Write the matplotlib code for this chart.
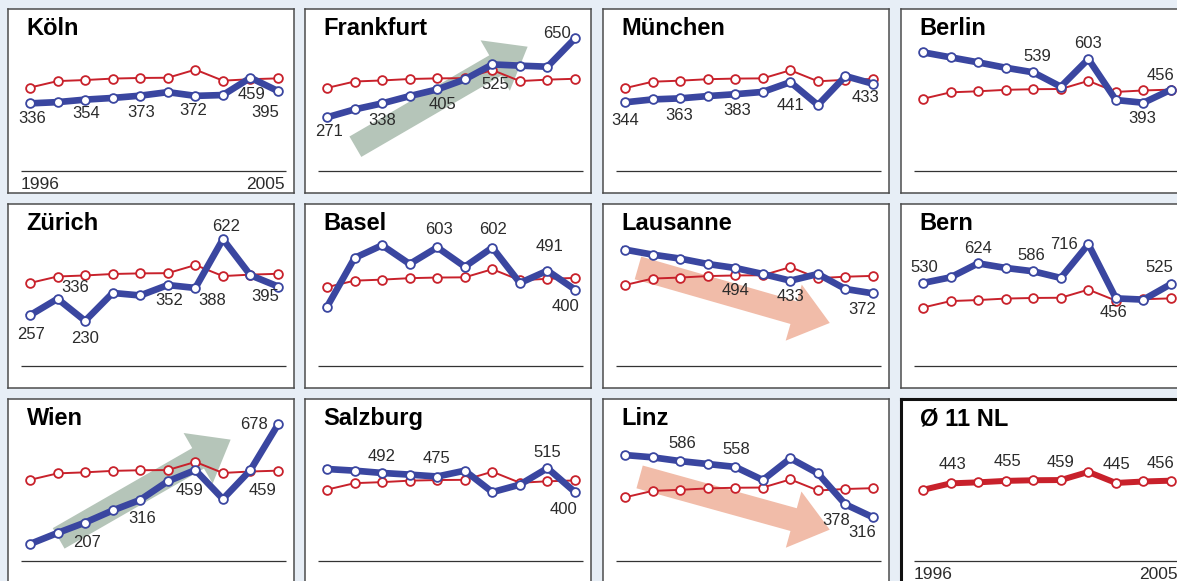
import matplotlib.pyplot as plt
from matplotlib.patches import ArrowStyle

years = list(range(1996, 2006))

panels = ['Köln', 'Frankfurt', 'München', 'Berlin',
          'Zürich', 'Basel', 'Lausanne', 'Bern',
          'Wien', 'Salzburg', 'Linz', 'Ø 11 NL']

# average of the 11 cities (red line, repeated in every panel)
avg_11 = [412, 443, 448, 455, 458, 459, 498, 445, 452, 456]

koeln = [336, 342, 354, 362, 373, 390, 372, 376, 459, 395]
frankfurt = [271, 309, 338, 373, 405, 453, 525, 519, 514, 650]
muenchen = [344, 358, 363, 374, 383, 394, 441, 331, 470, 433]
berlin = [635, 611, 587, 561, 539, 470, 603, 406, 393, 456]
zuerich = [257, 336, 230, 364, 352, 402, 388, 622, 449, 395]
basel = [317, 552, 613, 523, 603, 510, 602, 432, 491, 400]
lausanne = [582, 558, 539, 513, 494, 465, 433, 465, 393, 372]
bern = [530, 557, 624, 602, 586, 554, 716, 456, 450, 525]
wien = [104, 157, 207, 265, 316, 405, 459, 320, 459, 678]
salzburg = [511, 503, 492, 484, 475, 503, 400, 436, 515, 400]
linz = [615, 604, 586, 572, 558, 495, 599, 527, 378, 316]

city_series = [koeln, frankfurt, muenchen, berlin, zuerich, basel,
               lausanne, bern, wien, salzburg, linz, None]

# value at the top edge of each panel (all panels share one value-per-pixel scale)
panel_top = [789, 791, 792, 843, 791, 811, 801, 909, 800, 847, 884, 848]

# labelled points: (index, dx, dy) with the offset in pixels from the point
label_pos = [
    [(0, 2, -15), (2, 1, -14), (4, 1, -17), (6, -2, -15), (8, 1, -17), (9, -13, -21)],
    [(0, 2, -14), (2, 0, -17), (4, 5, -15), (6, 3, -20), (9, -18, 5)],
    [(0, 0, -18), (2, -1, -17), (4, 2, -16), (6, 0, -23), (9, -8, -14)],
    [(4, 4, 16), (6, 0, 15), (8, -1, -16), (9, -11, 14)],
    [(0, 1, -19), (1, 18, 11), (2, 0, -18), (4, 29, -5), (6, 17, -13), (7, 3, 13), (9, -13, -10)],
    [(4, 2, 18), (6, 1, 18), (8, 2, 24), (9, -10, -17)],
    [(4, 0, -23), (6, 0, -16), (9, -11, -16)],
    [(0, 1, 15), (2, 0, 15), (4, -2, 16), (6, -24, 0), (7, -2, -14), (9, -12, 17)],
    [(2, 2, -20), (4, 2, -19), (6, -6, -20), (8, 12, -20), (9, -24, 0)],
    [(2, 0, 16), (4, -1, 18), (8, 0, 16), (9, -12, -17)],
    [(2, 2, 18), (4, 1, 17), (8, -9, -16), (9, -11, -15)],
    [(1, 2, 19), (3, 2, 19), (5, 0, 18), (7, 1, 18), (9, -11, 17)],
]

# trend arrows: (tail, tip) in (point index, value)
green = '#b5c5b9'
salmon = '#f1bca9'
trend_arrows = {
    'Frankfurt': ((1.03, 130), (7.28, 610), green),
    'Wien': ((1.04, 131), (7.28, 605), green),
    'Lausanne': ((0.47, 494), (7.43, 230), salmon),
    'Linz': ((0.53, 510), (7.43, 257), salmon),
}

bg = '#e7eef6'
blue = '#3a46a0'
red = '#c8212b'
txt = '#2b2b2b'
num_font = ['Liberation Sans Narrow', 'Liberation Sans', 'DejaVu Sans']
title_font = ['Liberation Sans', 'DejaVu Sans']

W, H = 1177, 581
col_left = [8, 305, 603, 901]
row_top = [9, 204, 399]
pw, ph = 286, 184
x0, dx_pt = 22, 27.56      # first point and point spacing inside a panel (px)
val_per_px = 4.8

fig = plt.figure(figsize=(W / 100, H / 100), dpi=100, facecolor=bg)

for i, name in enumerate(panels):
    r, c = divmod(i, 4)
    left = col_left[c] / W
    bottom = (H - row_top[r] - ph) / H
    ax = fig.add_axes([left, bottom, pw / W, ph / H])
    ax.set_facecolor('white')
    ax.set_xticks([])
    ax.set_yticks([])
    is_avg = name.startswith('Ø')
    for sp in ax.spines.values():
        sp.set_color('#111111' if is_avg else '#4d4d4d')
        sp.set_linewidth(2.2 if is_avg else 1.1)

    ax.set_xlim(-x0 / dx_pt, (pw - x0) / dx_pt)
    top = panel_top[i]
    ax.set_ylim(top - ph * val_per_px, top)

    xs = list(range(len(years)))

    if name in trend_arrows:
        tail, tip, col = trend_arrows[name]
        ax.annotate('', xy=tip, xytext=tail, annotation_clip=False, zorder=1,
                    arrowprops=dict(arrowstyle=ArrowStyle.Simple(head_length=27, head_width=42,
                                                                 tail_width=17),
                                    mutation_scale=1, fc=col, ec='none',
                                    shrinkA=0, shrinkB=0))

    if is_avg:
        ax.plot(xs, avg_11, color=red, lw=4.3, marker='o', ms=6.3, mfc='white',
                mec=red, mew=1.3, zorder=3, solid_capstyle='round')
        values = avg_11
    else:
        ax.plot(xs, avg_11, color=red, lw=1.4, marker='o', ms=6.3, mfc='white',
                mec=red, mew=1.3, zorder=2)
        values = city_series[i]
        ax.plot(xs, values, color=blue, lw=4.8, marker='o', ms=6.3, mfc='white',
                mec=blue, mew=1.3, zorder=3, solid_joinstyle='round')

    for idx, ox, oy in label_pos[i]:
        ax.annotate(str(values[idx]), (xs[idx], values[idx]), xytext=(ox, oy),
                    textcoords='offset pixels', ha='center', va='center',
                    fontsize=12, color=txt, family=num_font, zorder=4)

    ax.text(18.5 / pw, 1 - 26 / ph, name, transform=ax.transAxes, ha='left',
            va='baseline', fontsize=17, fontweight='bold', family=title_font,
            color='black')

    # baseline under the curves
    ax.plot([13 / pw, 278 / pw], [1 - 162 / ph] * 2, transform=ax.transAxes,
            color='#333333', lw=0.9, solid_capstyle='butt')

    if name in ('Köln', 'Ø 11 NL'):
        ax.text(12.5 / pw, 1 - 168 / ph, str(years[0]), transform=ax.transAxes,
                ha='left', va='top', fontsize=12.5, color=txt, family=num_font)
        ax.text(277 / pw, 1 - 168 / ph, str(years[-1]), transform=ax.transAxes,
                ha='right', va='top', fontsize=12.5, color=txt, family=num_font)

fig.savefig('out.png', dpi=100, facecolor=bg)
